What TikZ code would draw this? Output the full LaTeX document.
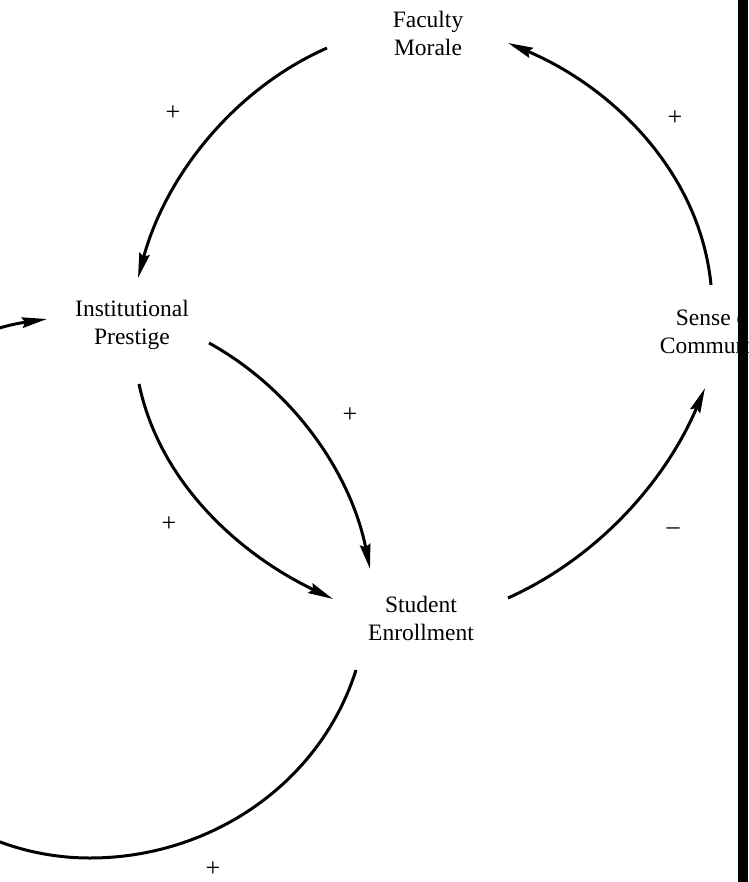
\documentclass[tikz,border=0pt]{standalone}
\usepackage{fontspec}
\setmainfont{Liberation Serif}
\usetikzlibrary{arrows.meta}
\begin{document}
\begin{tikzpicture}[x=1pt,y=-1pt,
  lbl/.style={align=center, font=\fontsize{23.5}{28}\selectfont, inner sep=0pt, anchor=base},
  sgn/.style={font=\fontsize{26}{30}\selectfont, inner sep=0pt},
  link/.style={line width=3pt, -{Stealth[length=25pt,width=10.5pt,inset=3pt]}}]
\clip (0,0) rectangle (748,882);
\fill[white] (0,0) rectangle (748,882);

% variables (anchor = baseline of the last line)
\node[lbl] (fm) at (428,56) {Faculty\\Morale};
\node[lbl] (ip) at (132,344) {Institutional\\Prestige};
\node[lbl] (se) at (421,640) {Student\\Enrollment};
\node[lbl] (sc) at (716,353) {Sense of\\Community};

% connector ends
\coordinate (fm1) at (327,48);
\coordinate (fm2) at (508,43);
\coordinate (ip1) at (138,278);
\coordinate (ip2) at (209,343);
\coordinate (ip3) at (139,384);
\coordinate (ip4) at (47,319);
\coordinate (se1) at (370,569);
\coordinate (se2) at (333,599);
\coordinate (se3) at (508,598);
\coordinate (se4) at (356,670);
\coordinate (sc1) at (711,285);
\coordinate (sc2) at (705,388);

\draw[link] (fm1) .. controls (232,90) and (165,178) .. (ip1);
\draw[link] (sc1) .. controls (700,172) and (612,87) .. (fm2);
\draw[link] (ip2) .. controls (294,390) and (351,474) .. (se1);
\draw[link] (ip3) .. controls (160,484) and (241,555) .. (se2);
\draw[link] (se3) .. controls (599,557) and (666,480) .. (sc2);
\draw[link] (se4) .. controls (320,784) and (210,858) .. (90,858)
  .. controls (-57,858) and (-177,735) .. (-177,584)
  .. controls (-177,449) and (-82,338) .. (ip4);

% polarities
\node[sgn] (p1) at (173,113) {+};
\node[sgn] (p2) at (675,118) {+};
\node[sgn] (p3) at (350,415) {+};
\node[sgn] (p4) at (169,524) {+};
\node[sgn] (p5) at (213,869) {+};
\node[sgn] (m1) at (673,531) {–};

% scan edge
\fill[black] (738,0) rectangle (748,882);
\end{tikzpicture}
\end{document}
